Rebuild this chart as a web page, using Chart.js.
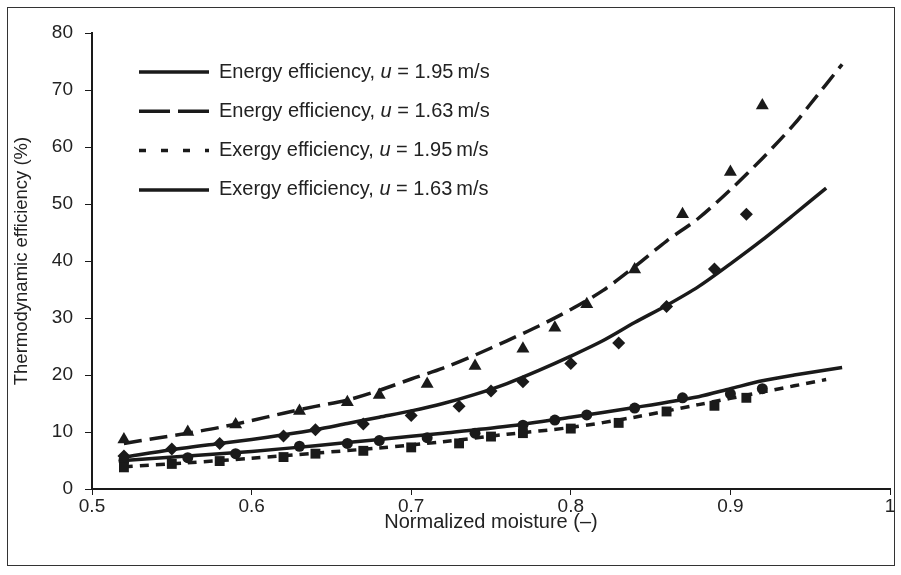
<!DOCTYPE html>
<html>
<head>
<meta charset="utf-8">
<script src="https://cdn.jsdelivr.net/npm/chart.js@4"></script>
<style>
  html, body { margin: 0; padding: 0; background: #fff; }
  #wrap { position: relative; width: 901px; height: 575px; }
</style>
</head>
<body>
<div id="wrap"><canvas id="effChart" width="901" height="575"></canvas></div>
<script>
// Measured points, u = 1.95 m/s (diamonds = energy, squares = exergy)
const fastX = [0.52, 0.55, 0.58, 0.62, 0.64, 0.67, 0.70, 0.73, 0.75, 0.77, 0.80, 0.83, 0.86, 0.89, 0.91];
const energyFast = [5.8, 7.0, 8.0, 9.3, 10.4, 11.4, 12.9, 14.5, 17.2, 18.8, 22.0, 25.6, 32.0, 38.6, 48.2];
const exergyFast = [3.8, 4.4, 4.9, 5.6, 6.2, 6.7, 7.3, 8.0, 9.2, 9.8, 10.6, 11.6, 13.6, 14.6, 16.0];

// Measured points, u = 1.63 m/s (triangles = energy, circles = exergy)
const slowX = [0.52, 0.56, 0.59, 0.63, 0.66, 0.68, 0.71, 0.74, 0.77, 0.79, 0.81, 0.84, 0.87, 0.90, 0.92];
const energySlow = [8.7, 10.0, 11.3, 13.7, 15.2, 16.5, 18.4, 21.6, 24.6, 28.3, 32.4, 38.5, 48.2, 55.6, 67.3];
const exergySlow = [5.0, 5.5, 6.2, 7.5, 8.0, 8.5, 9.0, 9.8, 11.2, 12.1, 13.0, 14.2, 16.0, 16.7, 17.6];

// Model curves
const energyFastLineX = [0.52, 0.55, 0.58, 0.60, 0.62, 0.64, 0.66, 0.68, 0.70, 0.72, 0.74, 0.76, 0.78, 0.80, 0.82, 0.84, 0.86, 0.88, 0.90, 0.92, 0.94, 0.96];
const energyFastLine  = [5.6, 6.9, 8.0, 8.7, 9.5, 10.4, 11.5, 12.6, 13.7, 15.0, 16.6, 18.5, 20.8, 23.3, 26.0, 29.2, 32.2, 35.5, 39.5, 43.7, 48.2, 52.8];
const energySlowLineX = [0.52, 0.54, 0.56, 0.58, 0.60, 0.62, 0.64, 0.66, 0.68, 0.70, 0.72, 0.74, 0.76, 0.78, 0.80, 0.82, 0.84, 0.86, 0.88, 0.90, 0.92, 0.94, 0.95, 0.97];
const energySlowLine  = [8.0, 8.9, 9.8, 10.8, 12.0, 13.3, 14.5, 15.6, 17.3, 19.3, 21.2, 23.5, 26.0, 28.6, 31.5, 34.8, 39.0, 43.5, 47.5, 52.5, 58.0, 64.0, 67.5, 74.5];
const exergyFastLineX = [0.52, 0.56, 0.60, 0.64, 0.68, 0.72, 0.76, 0.80, 0.84, 0.88, 0.92, 0.96];
const exergyFastLine  = [3.9, 4.6, 5.4, 6.3, 7.2, 8.3, 9.6, 10.8, 12.6, 14.8, 17.0, 19.2];
const exergySlowLineX = [0.52, 0.56, 0.60, 0.64, 0.68, 0.72, 0.76, 0.80, 0.84, 0.88, 0.90, 0.92, 0.94, 0.97];
const exergySlowLine  = [5.0, 5.8, 6.6, 7.6, 8.7, 9.8, 11.0, 12.6, 14.3, 16.2, 17.6, 19.0, 20.0, 21.3];

const xTickLabels = ['0.5', '0.6', '0.7', '0.8', '0.9', '1'];
const legendNames = ['Energy efficiency', 'Energy efficiency', 'Exergy efficiency', 'Exergy efficiency'];
const legendSpeeds = ['1.95', '1.63', '1.95', '1.63'];
const legendDashes = [[], [31, 8], [7, 15], []];

const INK = '#1a1a1a';
const FONT = "'Liberation Sans', Arial, sans-serif";

function pts(xs, ys) {
    return xs.map((x, i) => ({ x: x, y: ys[i] }));
}

function markers(xs, ys, style, radius) {
    return {
        type: 'scatter',
        data: pts(xs, ys),
        pointStyle: style,
        pointRadius: radius,
        pointBackgroundColor: INK,
        pointBorderColor: INK,
        pointBorderWidth: 0,
        showLine: false
    };
}

function curve(xs, ys, dash) {
    return {
        type: 'line',
        data: pts(xs, ys),
        borderColor: INK,
        borderWidth: 3.5,
        borderDash: dash,
        pointRadius: 0,
        fill: false,
        tension: 0.3
    };
}

// outer frame + legend drawn by hand (italic u inside the labels)
const framePlugin = {
    id: 'frame',
    beforeDraw(chart) {
        const ctx = chart.ctx;
        ctx.save();
        ctx.fillStyle = '#fff';
        ctx.fillRect(0, 0, chart.width, chart.height);
        ctx.strokeStyle = '#333';
        ctx.lineWidth = 1;
        ctx.strokeRect(7.5, 7.5, 887, 558);
        ctx.restore();
    },
    afterDraw(chart) {
        const ctx = chart.ctx;
        ctx.save();
        legendNames.forEach((name, i) => {
            const y = 72 + i * 39.3;
            ctx.strokeStyle = INK;
            ctx.lineWidth = 3.5;
            ctx.setLineDash(legendDashes[i]);
            ctx.beginPath();
            ctx.moveTo(139, y);
            ctx.lineTo(209, y);
            ctx.stroke();
            ctx.setLineDash([]);
            ctx.fillStyle = '#222';
            ctx.textBaseline = 'middle';
            let x = 219;
            const parts = [
                ['20px ' + FONT, name + ', '],
                ['italic 20px ' + FONT, 'u'],
                ['20px ' + FONT, ' = ' + legendSpeeds[i] + '\u2009m/s']
            ];
            parts.forEach(p => {
                ctx.font = p[0];
                ctx.fillText(p[1], x, y);
                x += ctx.measureText(p[1]).width;
            });
        });
        ctx.restore();
    }
};

const ctx = document.getElementById('effChart').getContext('2d');
new Chart(ctx, {
    data: {
        datasets: [
            markers(fastX, energyFast, 'rectRot', 6.5),
            markers(slowX, energySlow, 'triangle', 7.5),
            markers(fastX, exergyFast, 'rect', 7),
            markers(slowX, exergySlow, 'circle', 5.5),
            curve(energyFastLineX, energyFastLine, []),
            curve(energySlowLineX, energySlowLine, [18, 8]),
            curve(exergyFastLineX, exergyFastLine, [9, 7]),
            curve(exergySlowLineX, exergySlowLine, [])
        ]
    },
    options: {
        responsive: false,
        animation: false,
        events: [],
        layout: { padding: { left: 8, top: 33, right: 11, bottom: 10 } },
        plugins: {
            legend: { display: false },
            tooltip: { enabled: false }
        },
        scales: {
            x: {
                type: 'linear',
                min: 0.5,
                max: 1,
                afterFit: function(scale) { scale.height = 76; },
                ticks: {
                    stepSize: 0.1,
                    color: '#222',
                    padding: 0,
                    font: { family: FONT, size: 19 },
                    callback: function(value, index) { return xTickLabels[index]; }
                },
                grid: { drawOnChartArea: false, drawTicks: true, tickLength: 6, color: INK, lineWidth: 1 },
                border: { display: true, color: INK, width: 2 },
                title: {
                    display: true,
                    text: 'Normalized moisture (\u2013)',
                    color: '#222',
                    font: { family: FONT, size: 20 },
                    padding: { top: 0, bottom: 31 }
                }
            },
            y: {
                type: 'linear',
                min: 0,
                max: 80,
                afterFit: function(scale) { scale.width = 84; },
                ticks: {
                    stepSize: 10,
                    color: '#222',
                    padding: 12,
                    font: { family: FONT, size: 19 }
                },
                grid: { drawOnChartArea: false, drawTicks: true, tickLength: 7, color: INK, lineWidth: 1 },
                border: { display: true, color: INK, width: 2 },
                title: {
                    display: true,
                    text: 'Thermodynamic efficiency (%)',
                    color: '#222',
                    font: { family: FONT, size: 18.5 },
                    padding: { top: 3, bottom: 0 }
                }
            }
        }
    },
    plugins: [framePlugin]
});
</script>
</body>
</html>
